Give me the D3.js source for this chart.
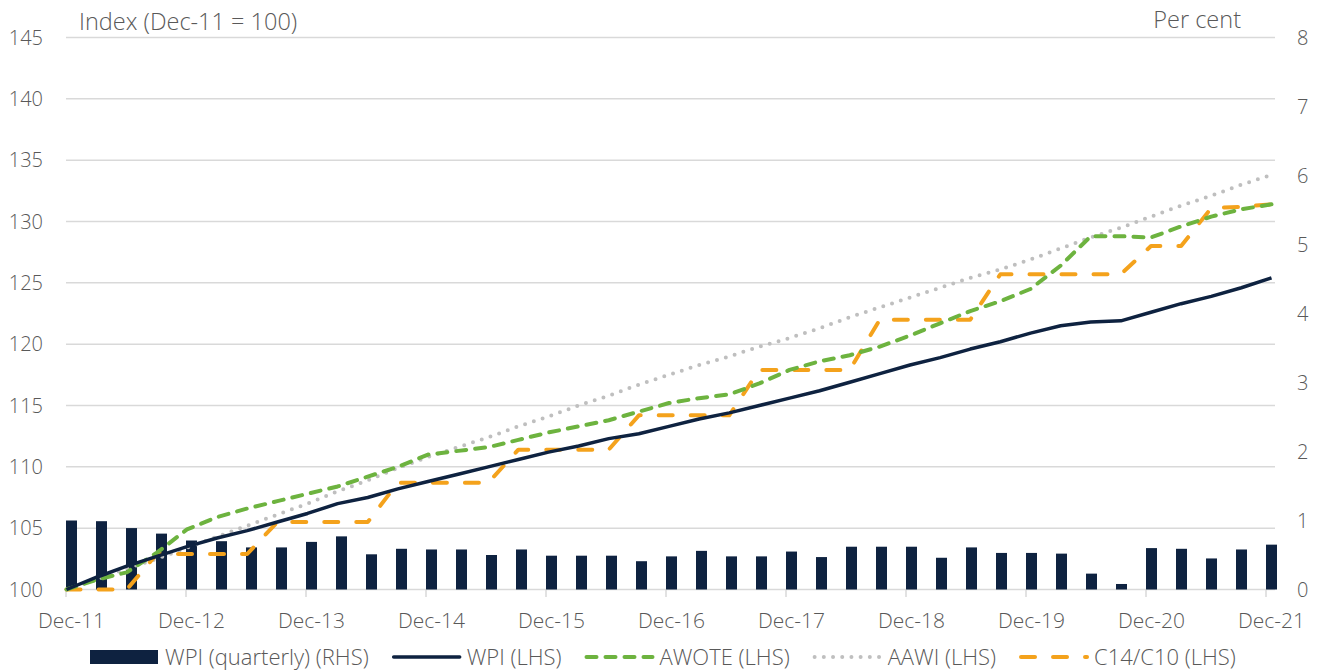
<!DOCTYPE html>
<meta charset="utf-8">
<style>
body { margin: 0; background: #fff; }
text { font-family: "Open Sans", sans-serif; font-size: 20px; fill: #595959; font-weight: 300; }
.xlab text { font-size: 21px; }
.legend text { font-size: 22px; }
.title { font-size: 23.5px; }
.grid line { stroke: #d9d9d9; stroke-width: 1.5; }
</style>
<svg width="1320" height="670"></svg>
<script src="https://cdn.jsdelivr.net/npm/d3@7"></script>
<script>

// quarterly, Dec-11 .. Dec-21 (41 points)
var wpiQuarterly = [1.00, 0.99, 0.89, 0.81, 0.71, 0.70, 0.61, 0.61, 0.69, 0.77,
  0.51, 0.59, 0.58, 0.58, 0.50, 0.58, 0.49, 0.49, 0.49, 0.41,
  0.48, 0.56, 0.48, 0.48, 0.55, 0.47, 0.62, 0.62, 0.62, 0.46,
  0.61, 0.53, 0.53, 0.52, 0.23, 0.08, 0.60, 0.59, 0.45, 0.58, 0.65];

var wpi = [100.0, 101.0, 101.9, 102.7, 103.5, 104.2, 104.8, 105.5, 106.2, 107.0,
  107.5, 108.2, 108.8, 109.4, 110.0, 110.6, 111.2, 111.7, 112.3, 112.7,
  113.3, 113.9, 114.4, 115.0, 115.6, 116.2, 116.9, 117.6, 118.3, 118.9,
  119.6, 120.2, 120.9, 121.5, 121.8, 121.9, 122.6, 123.3, 123.9, 124.6, 125.4];

var awote = [100.0, 100.8, 101.4, 103.0, 104.9, 105.9, 106.6, 107.2, 107.8, 108.4,
  109.2, 110.0, 111.0, 111.3, 111.6, 112.2, 112.8, 113.3, 113.8, 114.5,
  115.2, 115.6, 115.9, 116.8, 117.9, 118.6, 119.1, 119.8, 120.7, 121.7,
  122.7, 123.5, 124.5, 126.4, 128.8, 128.8, 128.7, 129.6, 130.4, 131.0, 131.4];

var aawi = [100.0, 100.8, 101.7, 102.5, 103.4, 104.3, 105.2, 106.1, 107.0, 108.0,
  108.9, 109.9, 110.8, 111.6, 112.4, 113.3, 114.1, 115.0, 115.8, 116.7,
  117.5, 118.3, 119.0, 119.8, 120.5, 121.3, 122.2, 123.0, 123.8, 124.6,
  125.4, 126.1, 126.9, 127.8, 128.7, 129.5, 130.4, 131.3, 132.1, 133.0, 133.8];

var c14c10 = [100.0, 100.0, 100.0, 102.9, 102.9, 102.9, 102.9, 105.5, 105.5, 105.5,
  105.5, 108.7, 108.7, 108.7, 108.7, 111.4, 111.4, 111.4, 111.4, 114.2,
  114.2, 114.2, 114.2, 117.9, 117.9, 117.9, 117.9, 122.0, 122.0, 122.0,
  122.0, 125.7, 125.7, 125.7, 125.7, 125.7, 128.0, 128.0, 131.1, 131.2, 131.4];

var yearLabels = ["Dec-11", "Dec-12", "Dec-13", "Dec-14", "Dec-15", "Dec-16",
  "Dec-17", "Dec-18", "Dec-19", "Dec-20", "Dec-21"];
var leftTicks = [100, 105, 110, 115, 120, 125, 130, 135, 140, 145];
var rightTicks = [0, 1, 2, 3, 4, 5, 6, 7, 8];

var svg = d3.select("svg");

var xBar = d3.scaleLinear().domain([0, 40]).range([66, 1266]);
var xLine = d3.scaleLinear().domain([0, 40]).range([66.5, 1271.5]);
var yL = d3.scaleLinear().domain([100, 145]).range([589.5, 37.5]);
var yR = d3.scaleLinear().domain([0, 8]).range([589.5, 37.5]);
var barW = 11;

// gridlines
svg.append("g")
    .attr("class", "grid")
  .selectAll("line")
  .data(leftTicks)
  .enter().append("line")
    .attr("x1", 66).attr("x2", 1275)
    .attr("y1", function(d) { return yL(d); })
    .attr("y2", function(d) { return yL(d); });

// year ticks on bottom
svg.append("g")
    .attr("class", "grid")
  .selectAll("line")
  .data(yearLabels)
  .enter().append("line")
    .attr("x1", function(d, i) { return xBar(i * 4); })
    .attr("x2", function(d, i) { return xBar(i * 4); })
    .attr("y1", 589.5).attr("y2", 597);

svg.append("g")
    .attr("class", "xlab")
  .selectAll("text")
  .data(yearLabels)
  .enter().append("text")
    .attr("x", function(d, i) { return xBar(i * 4) + barW / 2; })
    .attr("y", 628)
    .attr("text-anchor", "middle")
    .text(function(d) { return d; });

svg.append("g")
  .selectAll("text")
  .data(leftTicks)
  .enter().append("text")
    .attr("x", 43)
    .attr("y", function(d) { return yL(d); })
    .attr("dy", "0.35em")
    .attr("text-anchor", "end")
    .text(function(d) { return d; });

svg.append("g")
  .selectAll("text")
  .data(rightTicks)
  .enter().append("text")
    .attr("x", 1297)
    .attr("y", function(d) { return yR(d); })
    .attr("dy", "0.35em")
    .text(function(d) { return d; });

svg.append("text").attr("class", "title").attr("x", 79).attr("y", 30).text("Index (Dec-11 = 100)");
svg.append("text").attr("class", "title").attr("x", 1241).attr("y", 28).attr("text-anchor", "end").text("Per cent");

// bars
svg.append("g")
  .selectAll("rect")
  .data(wpiQuarterly)
  .enter().append("rect")
    .attr("x", function(d, i) { return xBar(i); })
    .attr("width", barW)
    .attr("y", function(d) { return yR(d); })
    .attr("height", function(d) { return yR(0) - yR(d); })
    .attr("fill", "#0e2240");

var series = [
  {name: "AAWI (LHS)", values: aawi, color: "#bfbfbf", dash: "0 9.2", cap: "round", width: 4},
  {name: "C14/C10 (LHS)", values: c14c10, color: "#f4a21c", dash: "14 18", cap: "round", width: 4},
  {name: "AWOTE (LHS)", values: awote, color: "#6db33f", dash: "10 9", cap: "round", width: 4},
  {name: "WPI (LHS)", values: wpi, color: "#0e2240", dash: null, cap: "butt", width: 3.5}
];

var line = d3.line()
    .x(function(d, i) { return xLine(i); })
    .y(function(d) { return yL(d); });

svg.append("g")
  .selectAll("path")
  .data(series)
  .enter().append("path")
    .attr("d", function(d) { return line(d.values); })
    .attr("fill", "none")
    .attr("stroke", function(d) { return d.color; })
    .attr("stroke-width", function(d) { return d.width; })
    .attr("stroke-dasharray", function(d) { return d.dash; })
    .attr("stroke-linecap", function(d) { return d.cap; })
    .attr("stroke-linejoin", "round");

// legend
var legendItems = [
  {name: "WPI (quarterly) (RHS)", type: "bar", color: "#0e2240"},
  series[3], series[2], series[0], series[1]
];
var lg = svg.append("g").attr("class", "legend");
var lx = 90, ly = 657;
legendItems.forEach(function(d) {
  if (d.type == "bar") {
    lg.append("rect").attr("x", lx).attr("y", ly - 7).attr("width", 68).attr("height", 14).attr("fill", d.color);
  } else {
    lg.append("line")
        .attr("x1", lx + 2).attr("x2", lx + 68)
        .attr("y1", ly).attr("y2", ly)
        .attr("stroke", d.color)
        .attr("stroke-width", d.width)
        .attr("stroke-dasharray", d.dash)
        .attr("stroke-linecap", d.cap == "butt" ? "round" : d.cap);
  }
  var t = lg.append("text").attr("x", lx + 75).attr("y", ly).attr("dy", "0.35em").text(d.name);
  lx += 75 + t.node().getComputedTextLength() + 23;
});

</script>
